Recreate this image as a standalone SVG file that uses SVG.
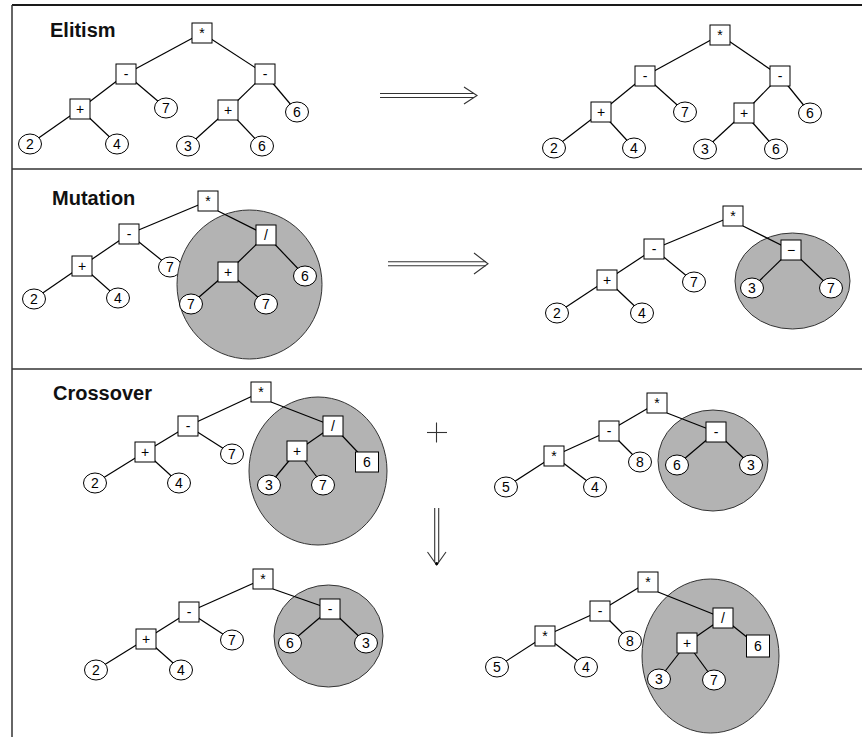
<svg xmlns="http://www.w3.org/2000/svg" width="862" height="737" viewBox="0 0 862 737">
<style>
.bx{fill:#fff;stroke:#000;stroke-width:1}
.ci{fill:#fff;stroke:#000;stroke-width:1}
.ed{stroke:#000;stroke-width:1.2;fill:none}
.t{font-family:"Liberation Sans",Arial,sans-serif;font-size:14px;text-anchor:middle;fill:#000}
.gr{fill:#b3b3b3;stroke:#333;stroke-width:1}
.ttl{font-family:"Liberation Sans",Arial,sans-serif;font-size:20px;font-weight:bold;fill:#111}
.fr{stroke:#333;stroke-width:1.5;fill:none}
.ar{stroke:#333;stroke-width:1.1;fill:none}
</style>
<rect width="862" height="737" fill="#fff"/>
<g id="frame">
<line class="fr" x1="12" y1="5" x2="862" y2="5" style="stroke:#1a1a1a;stroke-width:2"/>
<line class="fr" x1="12" y1="5" x2="12" y2="737"/>
<line class="fr" x1="12" y1="169" x2="862" y2="169"/>
<line class="fr" x1="12" y1="369" x2="862" y2="369"/>
</g>
<text class="ttl" x="50" y="37">Elitism</text>
<text class="ttl" x="52" y="205">Mutation</text>
<text class="ttl" x="53" y="400">Crossover</text>

<g id="arrows">
<line class="ar" x1="380" y1="93.5" x2="474" y2="93.5"/>
<line class="ar" x1="380" y1="97.5" x2="474" y2="97.5"/>
<polyline class="ar" points="464,87 477,95.5 464,104"/>
<line class="ar" x1="388" y1="261.7" x2="486" y2="261.7"/>
<line class="ar" x1="388" y1="265.7" x2="486" y2="265.7"/>
<polyline class="ar" points="474,253 488,263.7 474,274"/>
<line class="ar" x1="427" y1="432.5" x2="447" y2="432.5"/>
<line class="ar" x1="436.5" y1="422.5" x2="436.5" y2="442.5"/>
<line class="ar" x1="434.7" y1="508" x2="434.7" y2="562"/>
<line class="ar" x1="438.7" y1="508" x2="438.7" y2="562"/>
<polyline class="ar" points="427.5,552 436.7,565 446,552"/>
<circle cx="436.7" cy="563.5" r="1.6" fill="#000"/>
</g>

<!-- Elitism -->
<g id="connectors-elitism">
<line class="ed" x1="202" y1="33" x2="126" y2="74"/>
<line class="ed" x1="202" y1="33" x2="265" y2="74"/>
<line class="ed" x1="126" y1="74" x2="80" y2="109"/>
<line class="ed" x1="126" y1="74" x2="166" y2="108"/>
<line class="ed" x1="80" y1="109" x2="30" y2="144"/>
<line class="ed" x1="80" y1="109" x2="117" y2="144"/>
<line class="ed" x1="265" y1="74" x2="228" y2="110"/>
<line class="ed" x1="265" y1="74" x2="297" y2="112"/>
<line class="ed" x1="228" y1="110" x2="188" y2="146"/>
<line class="ed" x1="228" y1="110" x2="262" y2="146"/>
<line class="ed" x1="720" y1="35" x2="645" y2="76"/>
<line class="ed" x1="720" y1="35" x2="780" y2="76"/>
<line class="ed" x1="645" y1="76" x2="601" y2="112"/>
<line class="ed" x1="645" y1="76" x2="685" y2="112"/>
<line class="ed" x1="601" y1="112" x2="554" y2="148"/>
<line class="ed" x1="601" y1="112" x2="634" y2="148"/>
<line class="ed" x1="780" y1="76" x2="744" y2="113"/>
<line class="ed" x1="780" y1="76" x2="810" y2="113"/>
<line class="ed" x1="744" y1="113" x2="705" y2="149"/>
<line class="ed" x1="744" y1="113" x2="776" y2="149"/>
</g>
<g id="e1-root"><rect class="bx" x="192" y="23" width="20" height="20"/><text class="t" x="202" y="38">*</text></g>
<g id="e1-minus-l"><rect class="bx" x="116" y="64" width="20" height="20"/><text class="t" x="126" y="79">-</text></g>
<g id="e1-minus-r"><rect class="bx" x="255" y="64" width="20" height="20"/><text class="t" x="265" y="79">-</text></g>
<g id="e1-plus-l"><rect class="bx" x="70" y="99" width="20" height="20"/><text class="t" x="80" y="114">+</text></g>
<g id="e1-7"><ellipse class="ci" cx="166" cy="108" rx="11.5" ry="10"/><text class="t" x="166" y="113">7</text></g>
<g id="e1-plus-r"><rect class="bx" x="218" y="100" width="20" height="20"/><text class="t" x="228" y="115">+</text></g>
<g id="e1-6"><ellipse class="ci" cx="297" cy="112" rx="11.5" ry="10"/><text class="t" x="297" y="117">6</text></g>
<g id="e1-2"><ellipse class="ci" cx="30" cy="144" rx="11.5" ry="10"/><text class="t" x="30" y="149">2</text></g>
<g id="e1-4"><ellipse class="ci" cx="117" cy="144" rx="11.5" ry="10"/><text class="t" x="117" y="149">4</text></g>
<g id="e1-3"><ellipse class="ci" cx="188" cy="146" rx="11.5" ry="10"/><text class="t" x="188" y="151">3</text></g>
<g id="e1-6b"><ellipse class="ci" cx="262" cy="146" rx="11.5" ry="10"/><text class="t" x="262" y="151">6</text></g>

<g id="e2-root"><rect class="bx" x="710" y="25" width="20" height="20"/><text class="t" x="720" y="40">*</text></g>
<g id="e2-minus-l"><rect class="bx" x="635" y="66" width="20" height="20"/><text class="t" x="645" y="81">-</text></g>
<g id="e2-minus-r"><rect class="bx" x="770" y="66" width="20" height="20"/><text class="t" x="780" y="81">-</text></g>
<g id="e2-plus-l"><rect class="bx" x="591" y="102" width="20" height="20"/><text class="t" x="601" y="117">+</text></g>
<g id="e2-7"><ellipse class="ci" cx="685" cy="112" rx="11.5" ry="10"/><text class="t" x="685" y="117">7</text></g>
<g id="e2-plus-r"><rect class="bx" x="734" y="103" width="20" height="20"/><text class="t" x="744" y="118">+</text></g>
<g id="e2-6"><ellipse class="ci" cx="810" cy="113" rx="11.5" ry="10"/><text class="t" x="810" y="118">6</text></g>
<g id="e2-2"><ellipse class="ci" cx="554" cy="148" rx="11.5" ry="10"/><text class="t" x="554" y="153">2</text></g>
<g id="e2-4"><ellipse class="ci" cx="634" cy="148" rx="11.5" ry="10"/><text class="t" x="634" y="153">4</text></g>
<g id="e2-3"><ellipse class="ci" cx="705" cy="149" rx="11.5" ry="10"/><text class="t" x="705" y="154">3</text></g>
<g id="e2-6b"><ellipse class="ci" cx="776" cy="149" rx="11.5" ry="10"/><text class="t" x="776" y="154">6</text></g>

<!-- Mutation -->
<g id="connectors-mutation-outer">
<line class="ed" x1="208" y1="201" x2="129" y2="234"/>
<line class="ed" x1="129" y1="234" x2="82" y2="266"/>
<line class="ed" x1="129" y1="234" x2="170" y2="267"/>
<line class="ed" x1="82" y1="266" x2="34" y2="299"/>
<line class="ed" x1="82" y1="266" x2="118" y2="298"/>
<line class="ed" x1="733" y1="216" x2="654" y2="249"/>
<line class="ed" x1="654" y1="249" x2="607" y2="280"/>
<line class="ed" x1="654" y1="249" x2="694" y2="282"/>
<line class="ed" x1="607" y1="280" x2="557" y2="313"/>
<line class="ed" x1="607" y1="280" x2="642" y2="313"/>
</g>
<g id="m1-root"><rect class="bx" x="198" y="191" width="20" height="20"/><text class="t" x="208" y="206">*</text></g>
<g id="m1-minus"><rect class="bx" x="119" y="224" width="20" height="20"/><text class="t" x="129" y="239">-</text></g>
<g id="m1-plus"><rect class="bx" x="72" y="256" width="20" height="20"/><text class="t" x="82" y="271">+</text></g>
<g id="m1-7"><ellipse class="ci" cx="170" cy="267" rx="11.5" ry="10"/><text class="t" x="170" y="272">7</text></g>
<g id="m1-2"><ellipse class="ci" cx="34" cy="299" rx="11.5" ry="10"/><text class="t" x="34" y="304">2</text></g>
<g id="m1-4"><ellipse class="ci" cx="118" cy="298" rx="11.5" ry="10"/><text class="t" x="118" y="303">4</text></g>
<g id="m2-root"><rect class="bx" x="723" y="206" width="20" height="20"/><text class="t" x="733" y="221">*</text></g>
<g id="m2-minus"><rect class="bx" x="644" y="239" width="20" height="20"/><text class="t" x="654" y="254">-</text></g>
<g id="m2-plus"><rect class="bx" x="597" y="270" width="20" height="20"/><text class="t" x="607" y="285">+</text></g>
<g id="m2-7"><ellipse class="ci" cx="694" cy="282" rx="11.5" ry="10"/><text class="t" x="694" y="287">7</text></g>
<g id="m2-2"><ellipse class="ci" cx="557" cy="313" rx="11.5" ry="10"/><text class="t" x="557" y="318">2</text></g>
<g id="m2-4"><ellipse class="ci" cx="642" cy="313" rx="11.5" ry="10"/><text class="t" x="642" y="318">4</text></g>
<ellipse id="m1-region" class="gr" cx="249.5" cy="284.5" rx="72.5" ry="74.5"/>
<ellipse id="m2-region" class="gr" cx="792.5" cy="281" rx="57.5" ry="48"/>
<g id="connectors-mutation-inner">
<line class="ed" x1="218" y1="211" x2="266" y2="235"/>
<line class="ed" x1="266" y1="235" x2="228" y2="272"/>
<line class="ed" x1="266" y1="235" x2="305" y2="276"/>
<line class="ed" x1="228" y1="272" x2="191" y2="304"/>
<line class="ed" x1="228" y1="272" x2="266" y2="304"/>
<line class="ed" x1="743" y1="226" x2="791" y2="250"/>
<line class="ed" x1="791" y1="250" x2="752" y2="288"/>
<line class="ed" x1="791" y1="250" x2="831" y2="288"/>
</g>
<g id="m1-div"><rect class="bx" x="256" y="225" width="20" height="20"/><text class="t" x="266" y="240">/</text></g>
<g id="m1-plus-i"><rect class="bx" x="218" y="262" width="20" height="20"/><text class="t" x="228" y="277">+</text></g>
<g id="m1-6"><ellipse class="ci" cx="305" cy="276" rx="11.5" ry="10"/><text class="t" x="305" y="281">6</text></g>
<g id="m1-7a"><ellipse class="ci" cx="191" cy="304" rx="11.5" ry="10"/><text class="t" x="191" y="309">7</text></g>
<g id="m1-7b"><ellipse class="ci" cx="266" cy="304" rx="11.5" ry="10"/><text class="t" x="266" y="309">7</text></g>
<g id="m2-minus-new"><rect class="bx" x="781" y="240" width="20" height="20"/><text class="t" x="791" y="255">−</text></g>
<g id="m2-3"><ellipse class="ci" cx="752" cy="288" rx="11.5" ry="10"/><text class="t" x="752" y="293">3</text></g>
<g id="m2-7b"><ellipse class="ci" cx="831" cy="288" rx="11.5" ry="10"/><text class="t" x="831" y="293">7</text></g>

<!-- Crossover -->
<g id="connectors-crossover-outer">
<line class="ed" x1="261" y1="392" x2="188" y2="426"/>
<line class="ed" x1="188" y1="426" x2="145" y2="452"/>
<line class="ed" x1="188" y1="426" x2="232" y2="454"/>
<line class="ed" x1="145" y1="452" x2="95" y2="483"/>
<line class="ed" x1="145" y1="452" x2="179" y2="483"/>
<line class="ed" x1="657" y1="403" x2="609" y2="431"/>
<line class="ed" x1="609" y1="431" x2="554" y2="456"/>
<line class="ed" x1="609" y1="431" x2="640" y2="462"/>
<line class="ed" x1="554" y1="456" x2="506" y2="487"/>
<line class="ed" x1="554" y1="456" x2="595" y2="487"/>
<line class="ed" x1="263" y1="579" x2="189" y2="612"/>
<line class="ed" x1="189" y1="612" x2="146" y2="639"/>
<line class="ed" x1="189" y1="612" x2="232" y2="640"/>
<line class="ed" x1="146" y1="639" x2="96" y2="670"/>
<line class="ed" x1="146" y1="639" x2="181" y2="670"/>
<line class="ed" x1="648" y1="582" x2="600" y2="611"/>
<line class="ed" x1="600" y1="611" x2="545" y2="636"/>
<line class="ed" x1="600" y1="611" x2="630" y2="641"/>
<line class="ed" x1="545" y1="636" x2="497" y2="667"/>
<line class="ed" x1="545" y1="636" x2="586" y2="667"/>
</g>
<g id="c1-root"><rect class="bx" x="251" y="382" width="20" height="20"/><text class="t" x="261" y="397">*</text></g>
<g id="c1-minus"><rect class="bx" x="178" y="416" width="20" height="20"/><text class="t" x="188" y="431">-</text></g>
<g id="c1-plus"><rect class="bx" x="135" y="442" width="20" height="20"/><text class="t" x="145" y="457">+</text></g>
<g id="c1-7"><ellipse class="ci" cx="232" cy="454" rx="11.5" ry="10"/><text class="t" x="232" y="459">7</text></g>
<g id="c1-2"><ellipse class="ci" cx="95" cy="483" rx="11.5" ry="10"/><text class="t" x="95" y="488">2</text></g>
<g id="c1-4"><ellipse class="ci" cx="179" cy="483" rx="11.5" ry="10"/><text class="t" x="179" y="488">4</text></g>
<g id="c2-root"><rect class="bx" x="647" y="393" width="20" height="20"/><text class="t" x="657" y="408">*</text></g>
<g id="c2-minus"><rect class="bx" x="599" y="421" width="20" height="20"/><text class="t" x="609" y="436">-</text></g>
<g id="c2-times"><rect class="bx" x="544" y="446" width="20" height="20"/><text class="t" x="554" y="461">*</text></g>
<g id="c2-8"><ellipse class="ci" cx="640" cy="462" rx="11.5" ry="10"/><text class="t" x="640" y="467">8</text></g>
<g id="c2-5"><ellipse class="ci" cx="506" cy="487" rx="11.5" ry="10"/><text class="t" x="506" y="492">5</text></g>
<g id="c2-4"><ellipse class="ci" cx="595" cy="487" rx="11.5" ry="10"/><text class="t" x="595" y="492">4</text></g>
<g id="c3-root"><rect class="bx" x="253" y="569" width="20" height="20"/><text class="t" x="263" y="584">*</text></g>
<g id="c3-minus"><rect class="bx" x="179" y="602" width="20" height="20"/><text class="t" x="189" y="617">-</text></g>
<g id="c3-plus"><rect class="bx" x="136" y="629" width="20" height="20"/><text class="t" x="146" y="644">+</text></g>
<g id="c3-7"><ellipse class="ci" cx="232" cy="640" rx="11.5" ry="10"/><text class="t" x="232" y="645">7</text></g>
<g id="c3-2"><ellipse class="ci" cx="96" cy="670" rx="11.5" ry="10"/><text class="t" x="96" y="675">2</text></g>
<g id="c3-4"><ellipse class="ci" cx="181" cy="670" rx="11.5" ry="10"/><text class="t" x="181" y="675">4</text></g>
<g id="c4-root"><rect class="bx" x="638" y="572" width="20" height="20"/><text class="t" x="648" y="587">*</text></g>
<g id="c4-minus"><rect class="bx" x="590" y="601" width="20" height="20"/><text class="t" x="600" y="616">-</text></g>
<g id="c4-times"><rect class="bx" x="535" y="626" width="20" height="20"/><text class="t" x="545" y="641">*</text></g>
<g id="c4-8"><ellipse class="ci" cx="630" cy="641" rx="11.5" ry="10"/><text class="t" x="630" y="646">8</text></g>
<g id="c4-5"><ellipse class="ci" cx="497" cy="667" rx="11.5" ry="10"/><text class="t" x="497" y="672">5</text></g>
<g id="c4-4"><ellipse class="ci" cx="586" cy="667" rx="11.5" ry="10"/><text class="t" x="586" y="672">4</text></g>

<ellipse id="c1-region" class="gr" cx="318" cy="471" rx="69" ry="74"/>
<ellipse id="c2-region" class="gr" cx="713" cy="460.5" rx="55" ry="50.5"/>
<ellipse id="c3-region" class="gr" cx="328.5" cy="636" rx="54.5" ry="51"/>
<ellipse id="c4-region" class="gr" cx="710.5" cy="656" rx="68.5" ry="77"/>

<g id="connectors-crossover-inner">
<line class="ed" x1="271" y1="402" x2="333" y2="426"/>
<line class="ed" x1="333" y1="426" x2="297" y2="451"/>
<line class="ed" x1="333" y1="426" x2="367" y2="462"/>
<line class="ed" x1="297" y1="451" x2="269" y2="485"/>
<line class="ed" x1="297" y1="451" x2="323" y2="485"/>
<line class="ed" x1="667" y1="413" x2="716" y2="432"/>
<line class="ed" x1="716" y1="432" x2="677" y2="465"/>
<line class="ed" x1="716" y1="432" x2="751" y2="465"/>
<line class="ed" x1="273" y1="589" x2="330" y2="609"/>
<line class="ed" x1="330" y1="609" x2="290" y2="643"/>
<line class="ed" x1="330" y1="609" x2="366" y2="643"/>
<line class="ed" x1="658" y1="592" x2="723" y2="618"/>
<line class="ed" x1="723" y1="618" x2="687" y2="643"/>
<line class="ed" x1="723" y1="618" x2="758" y2="646"/>
<line class="ed" x1="687" y1="643" x2="659" y2="679"/>
<line class="ed" x1="687" y1="643" x2="714" y2="680"/>
</g>
<g id="c1-div"><rect class="bx" x="323" y="416" width="20" height="20"/><text class="t" x="333" y="431">/</text></g>
<g id="c1-plus-i"><rect class="bx" x="287" y="441" width="20" height="20"/><text class="t" x="297" y="456">+</text></g>
<g id="c1-6"><rect class="bx" x="355.5" y="452" width="23" height="20"/><text class="t" x="367" y="467">6</text></g>
<g id="c1-3"><ellipse class="ci" cx="269" cy="485" rx="11.5" ry="10"/><text class="t" x="269" y="490">3</text></g>
<g id="c1-7i"><ellipse class="ci" cx="323" cy="485" rx="11.5" ry="10"/><text class="t" x="323" y="490">7</text></g>
<g id="c2-minus-i"><rect class="bx" x="706" y="422" width="20" height="20"/><text class="t" x="716" y="437">-</text></g>
<g id="c2-6"><ellipse class="ci" cx="677" cy="465" rx="11.5" ry="10"/><text class="t" x="677" y="470">6</text></g>
<g id="c2-3"><ellipse class="ci" cx="751" cy="465" rx="11.5" ry="10"/><text class="t" x="751" y="470">3</text></g>
<g id="c3-minus-i"><rect class="bx" x="320" y="599" width="20" height="20"/><text class="t" x="330" y="614">-</text></g>
<g id="c3-6"><ellipse class="ci" cx="290" cy="643" rx="11.5" ry="10"/><text class="t" x="290" y="648">6</text></g>
<g id="c3-3"><ellipse class="ci" cx="366" cy="643" rx="11.5" ry="10"/><text class="t" x="366" y="648">3</text></g>
<g id="c4-div"><rect class="bx" x="713" y="608" width="20" height="20"/><text class="t" x="723" y="623">/</text></g>
<g id="c4-plus"><rect class="bx" x="677" y="633" width="20" height="20"/><text class="t" x="687" y="648">+</text></g>
<g id="c4-6"><rect class="bx" x="746.5" y="635" width="23" height="22"/><text class="t" x="758" y="651">6</text></g>
<g id="c4-3"><ellipse class="ci" cx="659" cy="679" rx="11.5" ry="10"/><text class="t" x="659" y="684">3</text></g>
<g id="c4-7"><ellipse class="ci" cx="714" cy="680" rx="11.5" ry="10"/><text class="t" x="714" y="685">7</text></g>
</svg>
